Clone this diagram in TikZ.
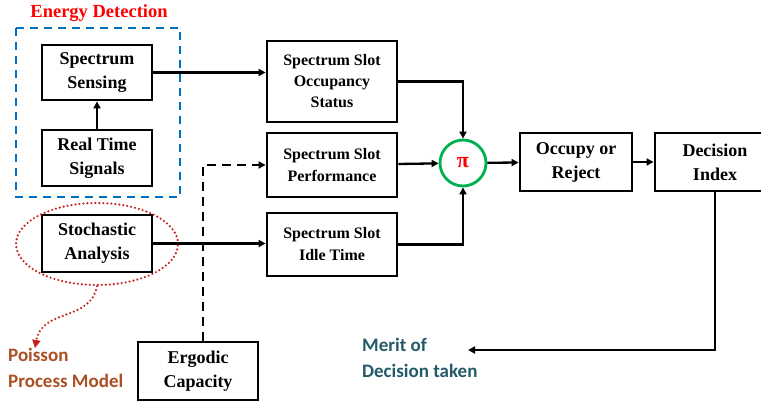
\documentclass[tikz,border=0pt]{standalone}
\usepackage{fontspec}
\setmainfont{Liberation Serif}
\newfontfamily\lblfont{Carlito}
\usetikzlibrary{shapes.geometric,arrows.meta}
\definecolor{edblue}{RGB}{0,112,192}
\definecolor{dotred}{RGB}{200,30,30}
\definecolor{brownish}{RGB}{170,80,35}
\definecolor{teal}{RGB}{35,90,105}
\definecolor{pigreen}{RGB}{0,176,80}

\begin{document}
\begin{tikzpicture}[x=1pt, y=-1pt, >={Triangle[length=7pt,width=7pt]},
  main/.style = {draw, rectangle, line width=2.8pt, align=center, font=\fontsize{18}{24}\selectfont\rmfamily\bfseries, inner sep=0pt},
  slot/.style = {main, minimum width=130pt, font=\fontsize{16}{21}\selectfont\rmfamily\bfseries},
  con/.style = {line width=2.3pt, ->},
  lbl/.style = {align=left, font=\fontsize{19}{26}\selectfont\lblfont\bfseries, inner sep=0pt}]
\clip (0,0) rectangle (761,404);
\node[main, minimum width=110pt, minimum height=55pt] (1) at (97,72.5) {Spectrum\\Sensing};
\node[main, minimum width=110pt, minimum height=56pt] (2) at (97,158) {Real Time\\Signals};
\node[main, minimum width=110pt, minimum height=57pt] (3) at (97,243.5) {Stochastic\\Analysis};
\node[slot, minimum height=81pt] (4) at (332,81.5) {Spectrum Slot\\Occupancy\\Status};
\node[slot, minimum height=64pt, font=\fontsize{16}{22}\selectfont\rmfamily\bfseries] (5) at (332,165) {Spectrum Slot\\Performance};
\node[slot, minimum height=63pt, font=\fontsize{16}{22}\selectfont\rmfamily\bfseries] (6) at (332,244.5) {Spectrum Slot\\Idle Time};
\node[draw=pigreen, circle, line width=2.8pt, minimum size=46pt, inner sep=0pt, text=red, font=\fontsize{22}{22}\selectfont\bfseries] (7) at (463,163) {π};
\node[main, minimum width=112pt, minimum height=58pt] (8) at (576,162) {Occupy or\\Reject};
\node[main, minimum width=120pt, minimum height=58pt] (9) at (715,162) {Decision\\Index};
\node[main, minimum width=120pt, minimum height=58pt] (10) at (198,371) {Ergodic\\Capacity};

\draw[edblue, line width=2.6pt, dash pattern=on 8pt off 6pt] (16,28) rectangle (180,197);
\node[text=red, font=\fontsize{18.5}{20}\selectfont\rmfamily\bfseries] (11) at (99,13) {Energy Detection};
\node[draw=dotred, ellipse, line width=2.4pt, dash pattern=on 0pt off 4pt, line cap=round, minimum width=162pt, minimum height=82pt] (12) at (97,244) {};
\node[lbl, text=brownish, anchor=west] (13) at (8,355) {Poisson};
\node[lbl, text=brownish, anchor=west] (15) at (8,381) {Process Model};
\node[lbl, text=teal, anchor=west] (14) at (362,345) {Merit of};
\node[lbl, text=teal, anchor=west] (16) at (362,371) {Decision taken};
\coordinate (m) at (468,350);

\draw[con] (2) -- (1);
\draw[con] (1.east) -- (1.east -| 4.west);
\draw[con] (3.east) -- (3.east -| 6.west);
\draw[con] (4.east) -| (7.north);
\draw[con] (5) -- (7);
\draw[con] (6.east) -| (7.south);
\draw[con] (7) -- (8);
\draw[con] (8) -- (9);
\draw[con] (9.south) |- (m);
\draw[con, dash pattern=on 9pt off 6pt] ([xshift=5pt]10.north) |- (5.west);
\draw[dotred, line width=2.4pt, dash pattern=on 0pt off 4pt, line cap=round, -{Triangle[length=8pt,width=8pt]}] (12.south) .. controls (90,322) and (42,308) .. (35,348);
\end{tikzpicture}
\end{document}
